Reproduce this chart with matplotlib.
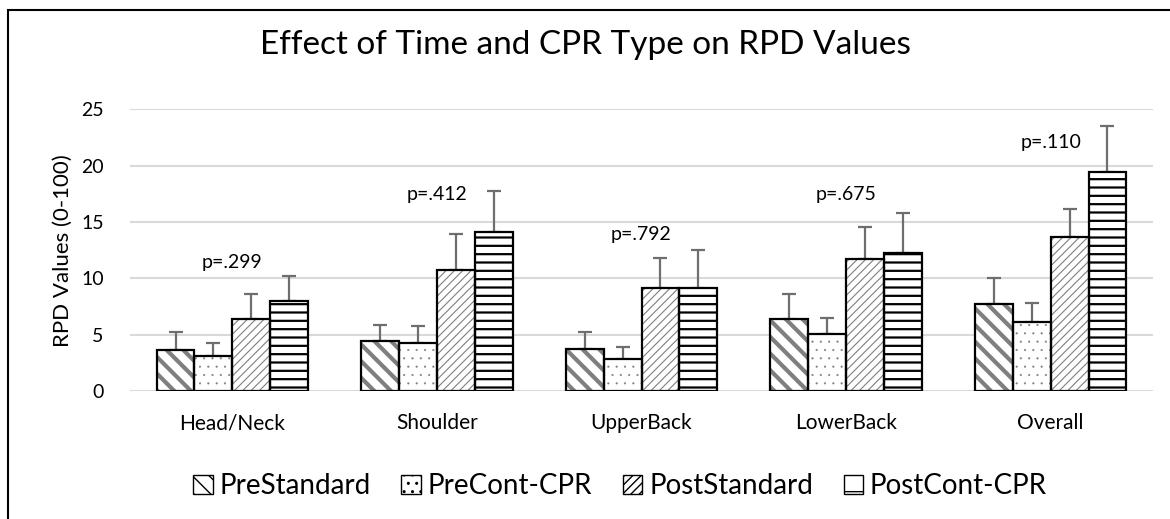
# RPD 값에 대한 시간 및 CPR 유형의 효과 : 막대 그래프 + 오차막대
import numpy as np
import matplotlib.pyplot as plt
from matplotlib.patches import Rectangle

plt.rcParams['font.family'] = ['Lato', 'DejaVu Sans']

regions = ['Head/Neck', 'Shoulder', 'UpperBack', 'LowerBack', 'Overall']
series = ['PreStandard', 'PreCont-CPR', 'PostStandard', 'PostCont-CPR']
pre_std = [3.65, 4.45, 3.75, 6.35, 7.75]
pre_cont = [3.15, 4.3, 2.85, 5.05, 6.15]
post_std = [6.35, 10.75, 9.15, 11.75, 13.65]
post_cont = [7.95, 14.1, 9.15, 12.25, 19.45]
pre_std_err = [1.55, 1.45, 1.45, 2.25, 2.25]
pre_cont_err = [1.15, 1.45, 1.05, 1.4, 1.7]
post_std_err = [2.25, 3.2, 2.7, 2.85, 2.5]
post_cont_err = [2.3, 3.7, 3.35, 3.55, 4.05]
p_labels = ['p=.299', 'p=.412', 'p=.792', 'p=.675', 'p=.110']
p_y = [11.45, 17.45, 13.9, 17.45, 22.1]

values = [pre_std, pre_cont, post_std, post_cont]
errors = [pre_std_err, pre_cont_err, post_std_err, post_cont_err]
# (해치, 해치색, 해치 선굵기)
styles = [('\\\\', '#7f7f7f', 3.0),
          ('..', '#7f7f7f', 0.3),
          ('////', '#7f7f7f', 0.8),
          ('--', 'black', 1.6)]

fig = plt.figure(figsize=(11.7, 5.19), dpi=100)
ax = fig.add_axes([130/1170, 1-391/519, 1023/1170, (391-109.5)/519])

x = np.arange(len(regions))
w = 0.185
for i, (vals, errs) in enumerate(zip(values, errors)):
    pos = x + (i - 1.5) * w
    hatch, hc, hlw = styles[i]
    with plt.rc_context({'hatch.linewidth': hlw, 'hatch.color': hc}):
        ax.bar(pos, vals, w, color='white', edgecolor=hc, linewidth=0,
               hatch=hatch, zorder=2)
    ax.bar(pos, vals, w, color='none', edgecolor='black', linewidth=1.6,
           zorder=3)
    ax.errorbar(pos, vals, yerr=[np.zeros(len(errs)), errs], fmt='none',
                ecolor='#6e6e6e', elinewidth=1.6, capsize=5, capthick=1.6,
                zorder=1)

for xi, lab, yy in zip(x, p_labels, p_y):
    ax.text(xi, yy, lab, ha='center', va='center', fontsize=14)

ax.set_xlim(-0.5, len(regions) - 0.5)
ax.set_ylim(0, 25)
ax.set_yticks([0, 5, 10, 15, 20, 25])
ax.set_xticks(x)
ax.set_xticklabels(regions)
ax.tick_params(length=0, labelsize=14)
ax.tick_params(axis='x', pad=16, labelsize=15)
ax.tick_params(axis='y', pad=19)
ax.grid(axis='y', color='#d9d9d9', linewidth=1.5, zorder=0)
ax.set_axisbelow(True)
for s in ax.spines.values():
    s.set_visible(False)
ax.set_ylabel('RPD Values (0-100)', fontsize=16, labelpad=6)

fig.text(0.5, 1-45/519, 'Effect of Time and CPR Type on RPD Values',
         ha='center', va='center', fontsize=24)

# 범례용 핸들
handles = []
for i, name in enumerate(series):
    hatch, hc, hlw = styles[i]
    with plt.rc_context({'hatch.linewidth': hlw * 0.6, 'hatch.color': hc}):
        handles.append(Rectangle((0, 0), 1, 1, facecolor='white',
                                 edgecolor='black', linewidth=1.0,
                                 hatch='-' if i == 3 else hatch))
fig.legend(handles, series, loc='center', bbox_to_anchor=(0.53, 1-486/519),
           ncol=4, frameon=False, fontsize=20, handlelength=0.7,
           handleheight=0.7, handletextpad=0.25, columnspacing=1.1)

# 외곽 테두리
fig.patches.append(Rectangle((8/1170, -0.1), 1.2, 1.1 - 10/519,
                             transform=fig.transFigure, fill=False,
                             edgecolor='black', linewidth=1.5))

fig.savefig('out.png', dpi=100)
